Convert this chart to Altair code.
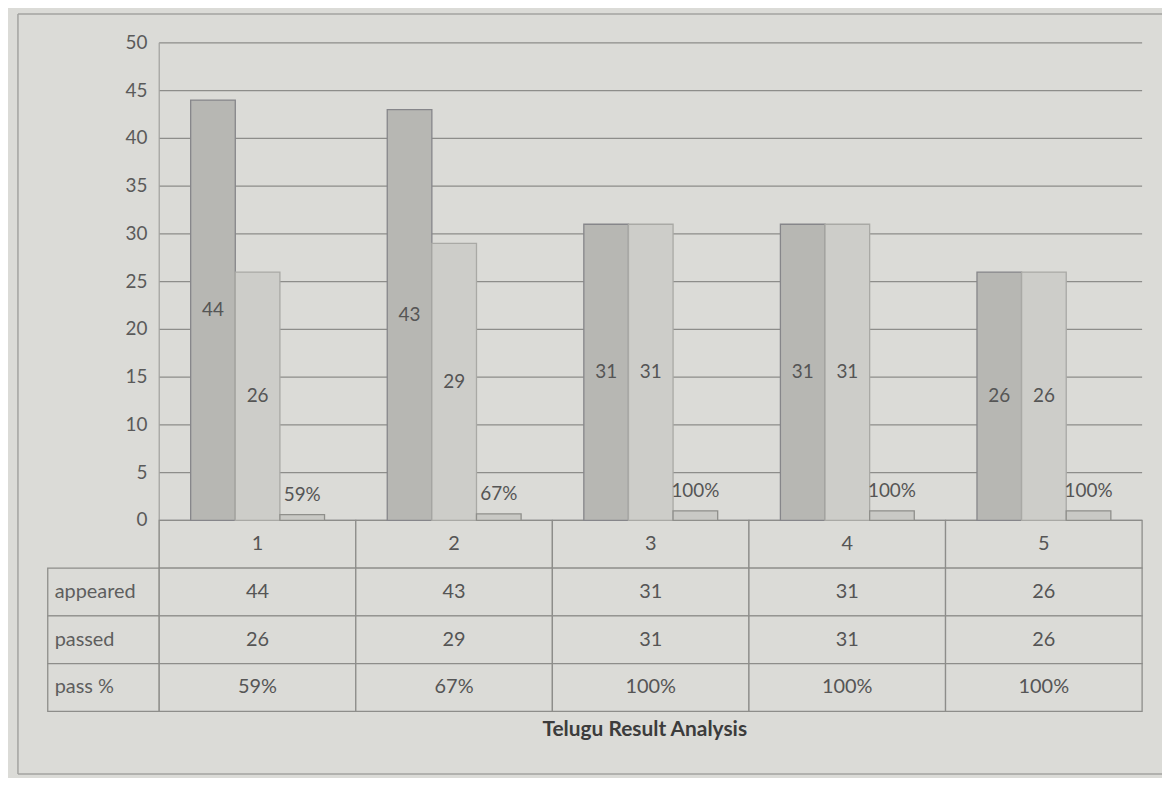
import altair as alt
import pandas as pd

# ---- data ----
categories = ["1", "2", "3", "4", "5"]
appeared = [44, 43, 31, 31, 26]
passed = [26, 29, 31, 31, 26]
pass_pct = [59, 67, 100, 100, 100]
row_labels = ["appeared", "passed", "pass %"]
y_ticks = [0, 5, 10, 15, 20, 25, 30, 35, 40, 45, 50]
title_text = "Telugu Result Analysis"

# ---- layout / style constants ----
FONT = "Lato"
X_DOM = [-0.7186, 5.1012]
Y_DOM = [-26.5625, 53.02]
BAR_START = 0.16
BAR_W = 0.227
ROW_H = 5.0
LABEL_LEFT = -0.567
GRID = "#8d8d8a"
TEXT = "#555555"
BG = "#dbdbd7"

xs = alt.Scale(domain=X_DOM, nice=False, zero=False)
ys = alt.Scale(domain=Y_DOM, nice=False, zero=False)

series_names = ["appeared", "passed", "pass %"]
series_fill = ["#b7b7b3", "#cdcdc9", "#c9c9c5"]
series_stroke = ["#86868a", "#a9a9a5", "#8f8f8b"]

# bars table
bar_rows = []
for i, c in enumerate(categories):
    vals = [appeared[i], passed[i], pass_pct[i]]
    for j, name in enumerate(series_names):
        x0 = i + BAR_START + j * BAR_W
        h = vals[j] / 100 if j == 2 else vals[j]
        bar_rows.append(dict(series=name, x0=x0, x1=x0 + BAR_W, xm=x0 + BAR_W / 2,
                             h=h, hm=h / 2, base=0,
                             label=(f"{vals[j]}%" if j == 2 else str(vals[j]))))
bars_df = pd.DataFrame(bar_rows)

grid_df = pd.DataFrame({"y": y_ticks, "x0": 0, "x1": 5})
ylab_df = pd.DataFrame({"y": y_ticks, "x": -0.06, "t": [str(v) for v in y_ticks]})

# table cells
cells = []
for i, c in enumerate(categories):
    cells.append(dict(x0=i, x1=i + 1, y0=0, y1=-ROW_H))
for r in range(len(row_labels)):
    ytop = -(r + 1) * ROW_H
    cells.append(dict(x0=LABEL_LEFT, x1=0, y0=ytop, y1=ytop - ROW_H))
    for i in range(len(categories)):
        cells.append(dict(x0=i, x1=i + 1, y0=ytop, y1=ytop - ROW_H))
cells_df = pd.DataFrame(cells)

ttext = []
for i, c in enumerate(categories):
    ttext.append(dict(x=i + 0.5, y=-ROW_H / 2, t=c))
    ttext.append(dict(x=i + 0.5, y=-ROW_H * 1.5, t=str(appeared[i])))
    ttext.append(dict(x=i + 0.5, y=-ROW_H * 2.5, t=str(passed[i])))
    ttext.append(dict(x=i + 0.5, y=-ROW_H * 3.5, t=f"{pass_pct[i]}%"))
ttext_df = pd.DataFrame(ttext)
rlab_df = pd.DataFrame({"t": row_labels, "x": LABEL_LEFT + 0.035,
                        "y": [-ROW_H * (k + 1.5) for k in range(3)]})

frame_df = pd.DataFrame([
    dict(x0=X_DOM[0], x1=X_DOM[1], y0=Y_DOM[1], y1=Y_DOM[1]),
    dict(x0=X_DOM[0], x1=X_DOM[1], y0=Y_DOM[0], y1=Y_DOM[0]),
    dict(x0=X_DOM[0], x1=X_DOM[0], y0=Y_DOM[0], y1=Y_DOM[1]),
])

title_df = pd.DataFrame({"t": [title_text], "x": [2.47], "y": [-22.0]})

X = lambda f: alt.X(f, type="quantitative", scale=xs, axis=None)
Y = lambda f: alt.Y(f, type="quantitative", scale=ys, axis=None)

frame = alt.Chart(frame_df).mark_rule(color="#a3a3a0", strokeWidth=1.5).encode(
    x=X("x0"), x2="x1", y=Y("y0"), y2="y1")

grid = alt.Chart(grid_df).mark_rule(color=GRID, strokeWidth=1.3).encode(
    x=X("x0"), x2="x1", y=Y("y"))

yaxis_line = alt.Chart(pd.DataFrame({"x": [0], "y0": [50], "y1": [-ROW_H]})).mark_rule(
    color="#a0a09d", strokeWidth=1.2).encode(x=X("x"), y=Y("y0"), y2="y1")

ylabels = alt.Chart(ylab_df).mark_text(align="right", baseline="middle", font=FONT,
                                        fontSize=19, color="#5a5a5a").encode(
    x=X("x"), y=Y("y"), text="t:N")

color_scale = alt.Scale(domain=series_names, range=series_fill)
stroke_scale = alt.Scale(domain=series_names, range=series_stroke)

bars = alt.Chart(bars_df).mark_rect(strokeWidth=1.3).encode(
    x=X("x0"), x2="x1", y=Y("h"), y2="base",
    fill=alt.Fill("series:N", scale=color_scale, legend=None),
    stroke=alt.Stroke("series:N", scale=stroke_scale, legend=None))

mid_labels = alt.Chart(bars_df).transform_filter(
    alt.datum.series != "pass %").mark_text(baseline="middle", font=FONT, fontSize=19,
                                           color=TEXT).encode(
    x=X("xm"), y=Y("hm"), text="label:N")

pct_labels = alt.Chart(bars_df).transform_filter(
    alt.datum.series == "pass %").mark_text(baseline="bottom", dy=-10, font=FONT,
                                           fontSize=19, color=TEXT).encode(
    x=X("xm"), y=Y("h"), text="label:N")

cells_layer = alt.Chart(cells_df).mark_rect(fill=BG, stroke=GRID, strokeWidth=1.3).encode(
    x=X("x0"), x2="x1", y=Y("y0"), y2="y1")

table_text = alt.Chart(ttext_df).mark_text(baseline="middle", font=FONT, fontSize=20,
                                           color=TEXT).encode(
    x=X("x"), y=Y("y"), text="t:N")

row_text = alt.Chart(rlab_df).mark_text(align="left", baseline="middle", font=FONT,
                                        fontSize=20, color="#5e5e5e").encode(
    x=X("x"), y=Y("y"), text="t:N")

title = alt.Chart(title_df).mark_text(baseline="middle", font=FONT, fontSize=21,
                                      fontWeight="bold", color="#3c3c3c").encode(
    x=X("x"), y=Y("y"), text="t:N")

chart = alt.layer(
    frame, grid, yaxis_line, ylabels, cells_layer, bars, mid_labels, pct_labels,
    table_text, row_text, title
).properties(
    width=1150, height=764,
    padding={"left": 10, "top": 4, "right": 0, "bottom": 2},
    autosize=alt.AutoSizeParams(type="none"),
    background=BG,
).configure_view(stroke=None)

chart.save("out.html", embed_options={"renderer": "svg", "actions": False})
